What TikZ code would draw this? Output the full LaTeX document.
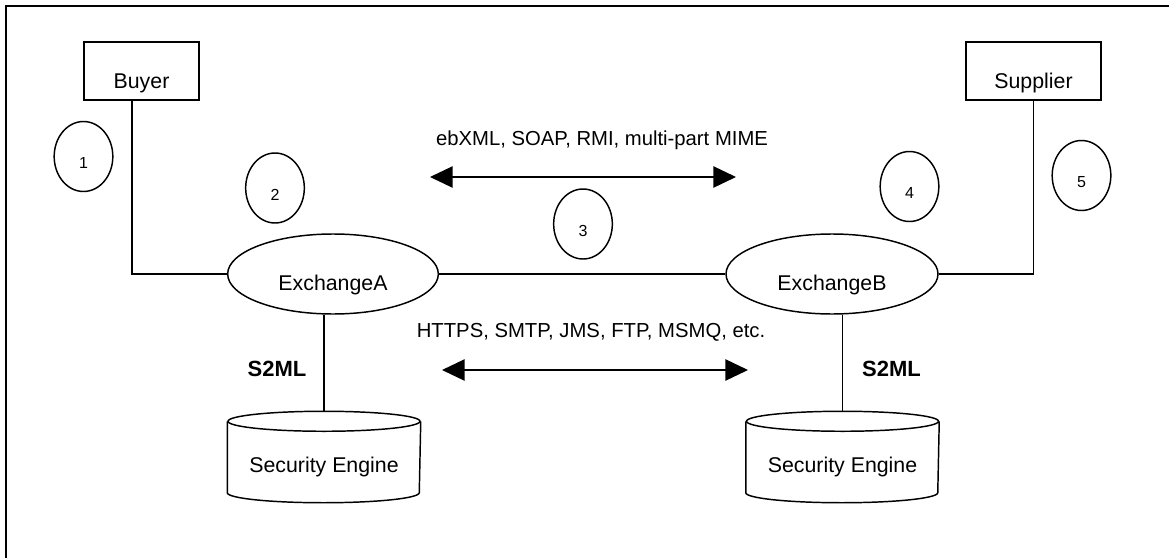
\documentclass[tikz,border=0pt]{standalone}
\usepackage{fontspec}
\setmainfont{Liberation Sans}
\usetikzlibrary{arrows.meta,shapes.geometric}

% outline of a storage drum drawn around a (borderless) rectangle node
\newcommand\drumoutline[1]{%
  \draw ([yshift=-7.5pt]#1.north) ellipse [x radius=72pt, y radius=7.5pt];
  \draw ([yshift=-7.5pt]#1.north west) -- ([yshift=7.5pt]#1.south west)
        arc [start angle=180, end angle=360, x radius=72pt, y radius=7.5pt]
        -- ([yshift=-7.5pt]#1.north east);
}

\begin{document}
\begin{tikzpicture}[x=0.75pt, y=0.75pt, line width=1.1pt,
  font=\fontsize{16}{19}\selectfont,
  actor/.style={draw, rectangle, minimum width=#1, minimum height=43.5pt,
                inner sep=0pt, text height=26pt, text depth=0pt},
  stepno/.style={draw, ellipse, minimum width=44pt, minimum height=52.5pt,
                 inner sep=0pt, font=\fontsize{12}{14}\selectfont,
                 text height=18.6pt, text depth=0pt},
  exch/.style={draw, ellipse, minimum width=158pt, minimum height=60pt,
               inner sep=0pt, text height=24pt, text depth=0pt},
  drum/.style={rectangle, minimum width=144pt, minimum height=67.5pt,
               inner sep=0pt, text height=23.6pt, text depth=0pt},
  proto/.style={anchor=base, font=\fontsize{15.2}{18}\selectfont},
  tag/.style={anchor=base, font=\fontsize{16.5}{19}\selectfont\bfseries},
  both/.style={{Triangle[length=17pt,width=16pt]}-{Triangle[length=17pt,width=16pt]}}]

\useasboundingbox (0,0) rectangle (1169,558);

% frame
\draw[line width=1.5pt] (6,0) -- (6,552) -- (1169,552);

% parties
\node[actor=86.25pt] (buyer) at (141.5,487) {Buyer};
\node[actor=101.25pt] (supplier) at (1033.5,487) {Supplier};

% exchanges
\node[exch] (exA) at (333,284) {ExchangeA};
\node[exch, minimum width=159pt] (exB) at (832,284) {ExchangeB};

% security engines
\node[drum] (engA) at (324,101) {Security Engine};
\node[drum] (engB) at (842.5,101) {Security Engine};
\drumoutline{engA}
\drumoutline{engB}

% numbered steps
\node[stepno] (s1) at (83.5,401.5) {1};
\node[stepno] (s2) at (275,370) {2};
\node[stepno] (s3) at (583,334) {3};
\node[stepno] (s4) at (909.5,371.5) {4};
\node[stepno] (s5) at (1081.5,382.5) {5};

% links
\draw ([xshift=-7.1pt]buyer.south) |- (exA.west);
\draw (supplier.south) |- (exB.east);
\draw (exA.east) -- (exB.west);
\draw (engA.north) -- (engA.north |- exA.south);
\draw (engB.north) -- (engB.north |- exB.south);

% S2ML labels
\node[tag] (tagA) at (277,181.3) {S2ML};
\node[tag] (tagB) at (891.5,181.3) {S2ML};

% protocol arrows
\node[proto] (msg) at (602,412.3) {ebXML, SOAP, RMI, multi-part MIME};
\coordinate (msgL) at (430,381);
\coordinate (msgR) at (736,381);
\draw[both] (msgL) -- (msgR);

\node[proto] (trans) at (591,220.3) {HTTPS, SMTP, JMS, FTP, MSMQ, etc.};
\coordinate (transL) at (442,188);
\coordinate (transR) at (748,188);
\draw[both] (transL) -- (transR);

\end{tikzpicture}
\end{document}
